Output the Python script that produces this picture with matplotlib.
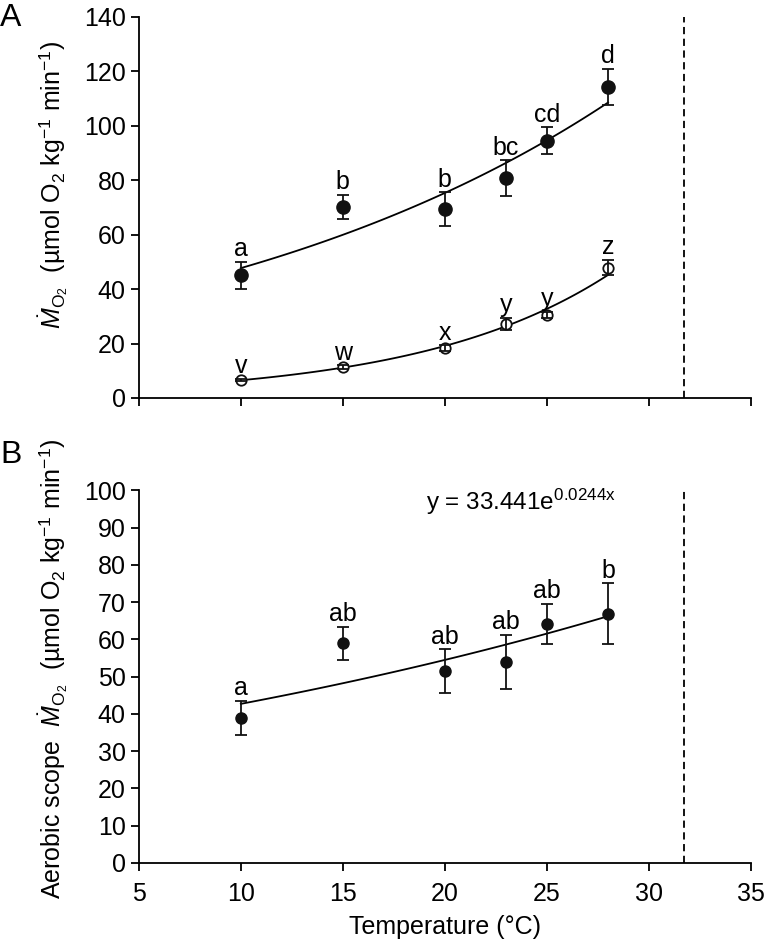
import matplotlib
matplotlib.use('Agg')
import matplotlib.pyplot as plt
import numpy as np

# Data
temps = [10, 15, 20, 23, 25, 28]
max_mo2 = [45.0, 70.2, 69.4, 80.8, 94.5, 114.3]
max_err = [5.0, 4.5, 6.2, 6.6, 5.0, 6.7]
max_letters = ['a', 'b', 'b', 'bc', 'cd', 'd']
rmr_mo2 = [6.6, 11.3, 18.3, 27.2, 30.5, 47.9]
rmr_err = [0.5, 0.7, 1.0, 2.3, 1.2, 2.8]
rmr_letters = ['v', 'w', 'x', 'y', 'y', 'z']
scope = [38.9, 58.9, 51.5, 53.9, 64.2, 66.9]
scope_err = [4.6, 4.5, 5.8, 7.3, 5.4, 8.1]
scope_letters = ['a', 'ab', 'ab', 'ab', 'ab', 'b']
scope_fit = (33.441, 0.0244)  # y = a*exp(b*x)
ctmax = 31.7

plt.rcParams['font.family'] = ['Liberation Sans', 'DejaVu Sans']
plt.rcParams['mathtext.fontset'] = 'custom'
plt.rcParams['mathtext.rm'] = 'Liberation Sans'
plt.rcParams['mathtext.it'] = 'Liberation Sans:italic'
FS = 18
LW = 1.3

fig = plt.figure(figsize=(7.67, 9.43), dpi=100)
axA = fig.add_axes([0.181, 0.578, 0.798, 0.404])
axB = fig.add_axes([0.181, 0.085, 0.798, 0.395])


def exp_fit(x, y):
    b, lna = np.polyfit(x, np.log(y), 1)
    return np.exp(lna), b


def style(ax):
    for s in ['top', 'right']:
        ax.spines[s].set_visible(False)
    for s in ['left', 'bottom']:
        ax.spines[s].set_linewidth(LW)
    ax.tick_params(direction='out', length=6, width=LW, labelsize=FS)
    ax.tick_params(axis='x', pad=8)
    ax.set_xlim(5, 35)
    ax.set_xticks(np.arange(5, 36, 5))


def series(ax, y, err, letters, filled, ms, a, b):
    xx = np.linspace(temps[0], temps[-1], 100)
    ax.plot(xx, a * np.exp(b * xx), color='k', lw=LW, zorder=2)
    if filled:
        ax.errorbar(temps, y, yerr=err, fmt='o', color='#111111', ms=ms,
                    capsize=4.5, elinewidth=LW, capthick=LW, zorder=3)
    else:
        ax.plot(temps, y, 'o', mfc='white', mec='#111111', mew=LW, ms=ms, zorder=3)
        ax.errorbar(temps, y, yerr=err, fmt='none', ecolor='#111111',
                    capsize=4, elinewidth=LW, capthick=LW, zorder=4)
    for x, v, e, t in zip(temps, y, err, letters):
        ax.annotate(t, (x, v + e), xytext=(0, 4), textcoords='offset points',
                    ha='center', va='baseline', fontsize=FS)


unit = r'(µmol O$_2$ kg$^{-1}$ min$^{-1}$)'
mlab = r'$\dot{M}_{\mathrm{O_2}}$'

# Panel A
style(axA)
series(axA, max_mo2, max_err, max_letters, True, 9.5, *exp_fit(temps, max_mo2))
series(axA, rmr_mo2, rmr_err, rmr_letters, False, 7.5, *exp_fit(temps, rmr_mo2))
axA.set_ylim(0, 140)
axA.set_yticks(np.arange(0, 141, 20))
axA.tick_params(axis='x', labelbottom=False)
axA.axvline(ctmax, color='k', lw=LW, ls=(0, (4, 2.5)))
axA.set_ylabel(mlab + '  ' + unit, fontsize=FS)
axA.yaxis.set_label_coords(-0.113, 0.56)

# Panel B
style(axB)
series(axB, scope, scope_err, scope_letters, True, 8, *scope_fit)
axB.set_ylim(0, 100)
axB.set_yticks(np.arange(0, 101, 10))
axB.axvline(ctmax, color='k', lw=LW, ls=(0, (4, 2.5)))
axB.set_ylabel('Aerobic scope  ' + mlab + '  ' + unit, fontsize=FS)
axB.yaxis.set_label_coords(-0.113, 0.52)
axB.set_xlabel('Temperature (°C)', fontsize=FS, labelpad=6)
axB.text(19.1, 96.8, r'y = %.3fe$^{\mathrm{%.4fx}}$' % scope_fit, fontsize=17.5, va='center')

fig.text(0.0, 0.981, 'A', fontsize=23, va='center', ha='left')
fig.text(0.0, 0.518, 'B', fontsize=23, va='center', ha='left')

fig.savefig('out.png', dpi=100)
